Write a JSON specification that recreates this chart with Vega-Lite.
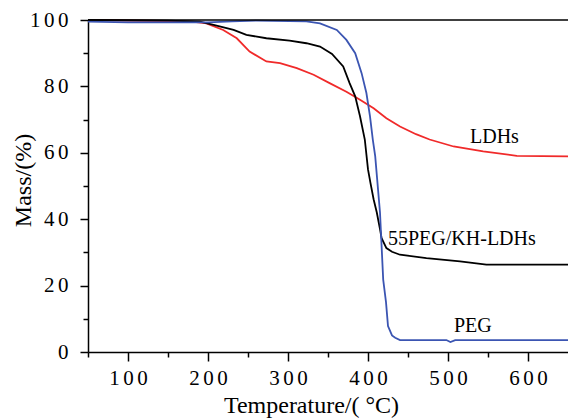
{
  "$schema": "https://vega.github.io/schema/vega-lite/v6.json",
  "width": 480,
  "height": 332,
  "autosize": "none",
  "padding": {"left": 88, "top": 20, "right": 0, "bottom": 68},
  "background": "white",
  "config": {
    "view": {"stroke": null},
    "axis": {
      "grid": false,
      "domainColor": "#000000",
      "tickColor": "#000000",
      "domainWidth": 1.5,
      "tickWidth": 1.5,
      "labelFont": "Liberation Serif",
      "labelFontSize": 21,
      "labelColor": "#000000",
      "titleFont": "Liberation Serif",
      "titleFontSize": 24,
      "titleFontWeight": "normal",
      "titleColor": "#000000"
    }
  },
  "datasets": {
    "curves": [
      {"T": 50, "mass": 100, "s": "LDHs"},
      {"T": 150, "mass": 99.7, "s": "LDHs"},
      {"T": 180, "mass": 99.5, "s": "LDHs"},
      {"T": 198, "mass": 99.0, "s": "LDHs"},
      {"T": 219, "mass": 97.0, "s": "LDHs"},
      {"T": 236, "mass": 94.5, "s": "LDHs"},
      {"T": 252, "mass": 90.5, "s": "LDHs"},
      {"T": 273, "mass": 87.5, "s": "LDHs"},
      {"T": 290, "mass": 87.0, "s": "LDHs"},
      {"T": 311, "mass": 85.5, "s": "LDHs"},
      {"T": 332, "mass": 83.5, "s": "LDHs"},
      {"T": 352, "mass": 81.0, "s": "LDHs"},
      {"T": 373, "mass": 78.4, "s": "LDHs"},
      {"T": 390, "mass": 76.0, "s": "LDHs"},
      {"T": 407, "mass": 73.4, "s": "LDHs"},
      {"T": 423, "mass": 70.4, "s": "LDHs"},
      {"T": 440, "mass": 67.9, "s": "LDHs"},
      {"T": 460, "mass": 65.6, "s": "LDHs"},
      {"T": 477, "mass": 64.0, "s": "LDHs"},
      {"T": 507, "mass": 61.9, "s": "LDHs"},
      {"T": 544, "mass": 60.4, "s": "LDHs"},
      {"T": 586, "mass": 59.1, "s": "LDHs"},
      {"T": 650, "mass": 58.9, "s": "LDHs"},
      {"T": 50, "mass": 100, "s": "55PEG/KH-LDHs"},
      {"T": 150, "mass": 99.8, "s": "55PEG/KH-LDHs"},
      {"T": 190, "mass": 99.5, "s": "55PEG/KH-LDHs"},
      {"T": 207, "mass": 98.5, "s": "55PEG/KH-LDHs"},
      {"T": 232, "mass": 97.0, "s": "55PEG/KH-LDHs"},
      {"T": 248, "mass": 95.5, "s": "55PEG/KH-LDHs"},
      {"T": 273, "mass": 94.5, "s": "55PEG/KH-LDHs"},
      {"T": 302, "mass": 93.8, "s": "55PEG/KH-LDHs"},
      {"T": 323, "mass": 93.0, "s": "55PEG/KH-LDHs"},
      {"T": 340, "mass": 92.0, "s": "55PEG/KH-LDHs"},
      {"T": 355, "mass": 89.8, "s": "55PEG/KH-LDHs"},
      {"T": 369, "mass": 86.0, "s": "55PEG/KH-LDHs"},
      {"T": 377, "mass": 81.0, "s": "55PEG/KH-LDHs"},
      {"T": 384, "mass": 77.0, "s": "55PEG/KH-LDHs"},
      {"T": 390, "mass": 71.0, "s": "55PEG/KH-LDHs"},
      {"T": 396, "mass": 64.0, "s": "55PEG/KH-LDHs"},
      {"T": 400, "mass": 55.0, "s": "55PEG/KH-LDHs"},
      {"T": 403, "mass": 51.0, "s": "55PEG/KH-LDHs"},
      {"T": 407, "mass": 46.0, "s": "55PEG/KH-LDHs"},
      {"T": 411, "mass": 42.0, "s": "55PEG/KH-LDHs"},
      {"T": 415, "mass": 37.0, "s": "55PEG/KH-LDHs"},
      {"T": 417, "mass": 34.3, "s": "55PEG/KH-LDHs"},
      {"T": 423, "mass": 31.3, "s": "55PEG/KH-LDHs"},
      {"T": 430, "mass": 30.2, "s": "55PEG/KH-LDHs"},
      {"T": 440, "mass": 29.3, "s": "55PEG/KH-LDHs"},
      {"T": 473, "mass": 28.3, "s": "55PEG/KH-LDHs"},
      {"T": 515, "mass": 27.3, "s": "55PEG/KH-LDHs"},
      {"T": 548, "mass": 26.3, "s": "55PEG/KH-LDHs"},
      {"T": 650, "mass": 26.3, "s": "55PEG/KH-LDHs"},
      {"T": 50, "mass": 99.5, "s": "PEG"},
      {"T": 100, "mass": 99.3, "s": "PEG"},
      {"T": 200, "mass": 99.3, "s": "PEG"},
      {"T": 230, "mass": 99.6, "s": "PEG"},
      {"T": 260, "mass": 99.8, "s": "PEG"},
      {"T": 323, "mass": 99.6, "s": "PEG"},
      {"T": 340, "mass": 99.0, "s": "PEG"},
      {"T": 361, "mass": 97.0, "s": "PEG"},
      {"T": 373, "mass": 94.0, "s": "PEG"},
      {"T": 384, "mass": 90.0, "s": "PEG"},
      {"T": 392, "mass": 84.0, "s": "PEG"},
      {"T": 398, "mass": 78.0, "s": "PEG"},
      {"T": 402.5, "mass": 71.0, "s": "PEG"},
      {"T": 406, "mass": 64.0, "s": "PEG"},
      {"T": 409, "mass": 59.0, "s": "PEG"},
      {"T": 415, "mass": 42.0, "s": "PEG"},
      {"T": 419, "mass": 21.8, "s": "PEG"},
      {"T": 422.5, "mass": 15.0, "s": "PEG"},
      {"T": 425, "mass": 7.8, "s": "PEG"},
      {"T": 430, "mass": 5.0, "s": "PEG"},
      {"T": 434, "mass": 4.3, "s": "PEG"},
      {"T": 440, "mass": 3.6, "s": "PEG"},
      {"T": 498, "mass": 3.6, "s": "PEG"},
      {"T": 503, "mass": 3.0, "s": "PEG"},
      {"T": 509, "mass": 3.6, "s": "PEG"},
      {"T": 650, "mass": 3.6, "s": "PEG"}
    ],
    "labels": [
      {"T": 527.5, "mass": 63.0, "text": "LDHs"},
      {"T": 425, "mass": 32.3, "text": "55PEG/KH-LDHs"},
      {"T": 507.5, "mass": 5.9, "text": "PEG"}
    ]
  },
  "layer": [
    {
      "data": {"name": "curves"},
      "mark": {"type": "line", "strokeWidth": 1.8},
      "encoding": {
        "x": {
          "field": "T", "type": "quantitative",
          "scale": {"domain": [50, 650], "nice": false, "zero": false},
          "axis": {
            "orient": "bottom",
            "values": [100, 200, 300, 400, 500, 600],
            "tickSize": 9,
            "labelPadding": 6,
            "labelExpr": "join(split(datum.label, ''), '\u2006')",
            "title": "Temperature/( °C)",
            "titleX": 223,
            "titleY": 60,
            "titleAnchor": null,
            "titleBaseline": "alphabetic"
          }
        },
        "y": {
          "field": "mass", "type": "quantitative",
          "scale": {"domain": [0, 100], "nice": false},
          "axis": {
            "orient": "left",
            "values": [0, 20, 40, 60, 80, 100],
            "tickSize": 8,
            "labelPadding": 12,
            "labelExpr": "join(split(datum.label, ''), '\u2006')",
            "title": "Mass/(%)",
            "titleX": -65,
            "titleY": 160,
            "titleBaseline": "middle",
            "titleAnchor": null
          }
        },
        "color": {
          "field": "s", "type": "nominal",
          "scale": {"domain": ["LDHs", "55PEG/KH-LDHs", "PEG"], "range": ["#f02a2a", "#000000", "#3b55b2"]},
          "legend": null
        }
      }
    },
    {
      "data": {"values": [{}]},
      "mark": {"type": "rule", "color": "#000000", "strokeWidth": 1.5},
      "encoding": {
        "x": {"datum": 50, "type": "quantitative", "axis": {"orient": "bottom", "values": [50, 150, 250, 350, 450, 550], "tickSize": 5, "labels": false, "domain": false, "title": null}},
        "x2": {"datum": 650},
        "y": {"datum": 100, "type": "quantitative", "axis": {"orient": "left", "values": [10, 30, 50, 70, 90], "tickSize": 5, "labels": false, "domain": false, "title": null}}
      }
    },
    {
      "data": {"name": "labels"},
      "mark": {"type": "text", "align": "left", "baseline": "alphabetic", "font": "Liberation Serif", "fontSize": 20, "color": "#000000"},
      "encoding": {
        "x": {"field": "T", "type": "quantitative", "axis": null},
        "y": {"field": "mass", "type": "quantitative", "axis": null},
        "text": {"field": "text"}
      }
    }
  ],
  "resolve": {"axis": {"x": "independent", "y": "independent"}}
}
